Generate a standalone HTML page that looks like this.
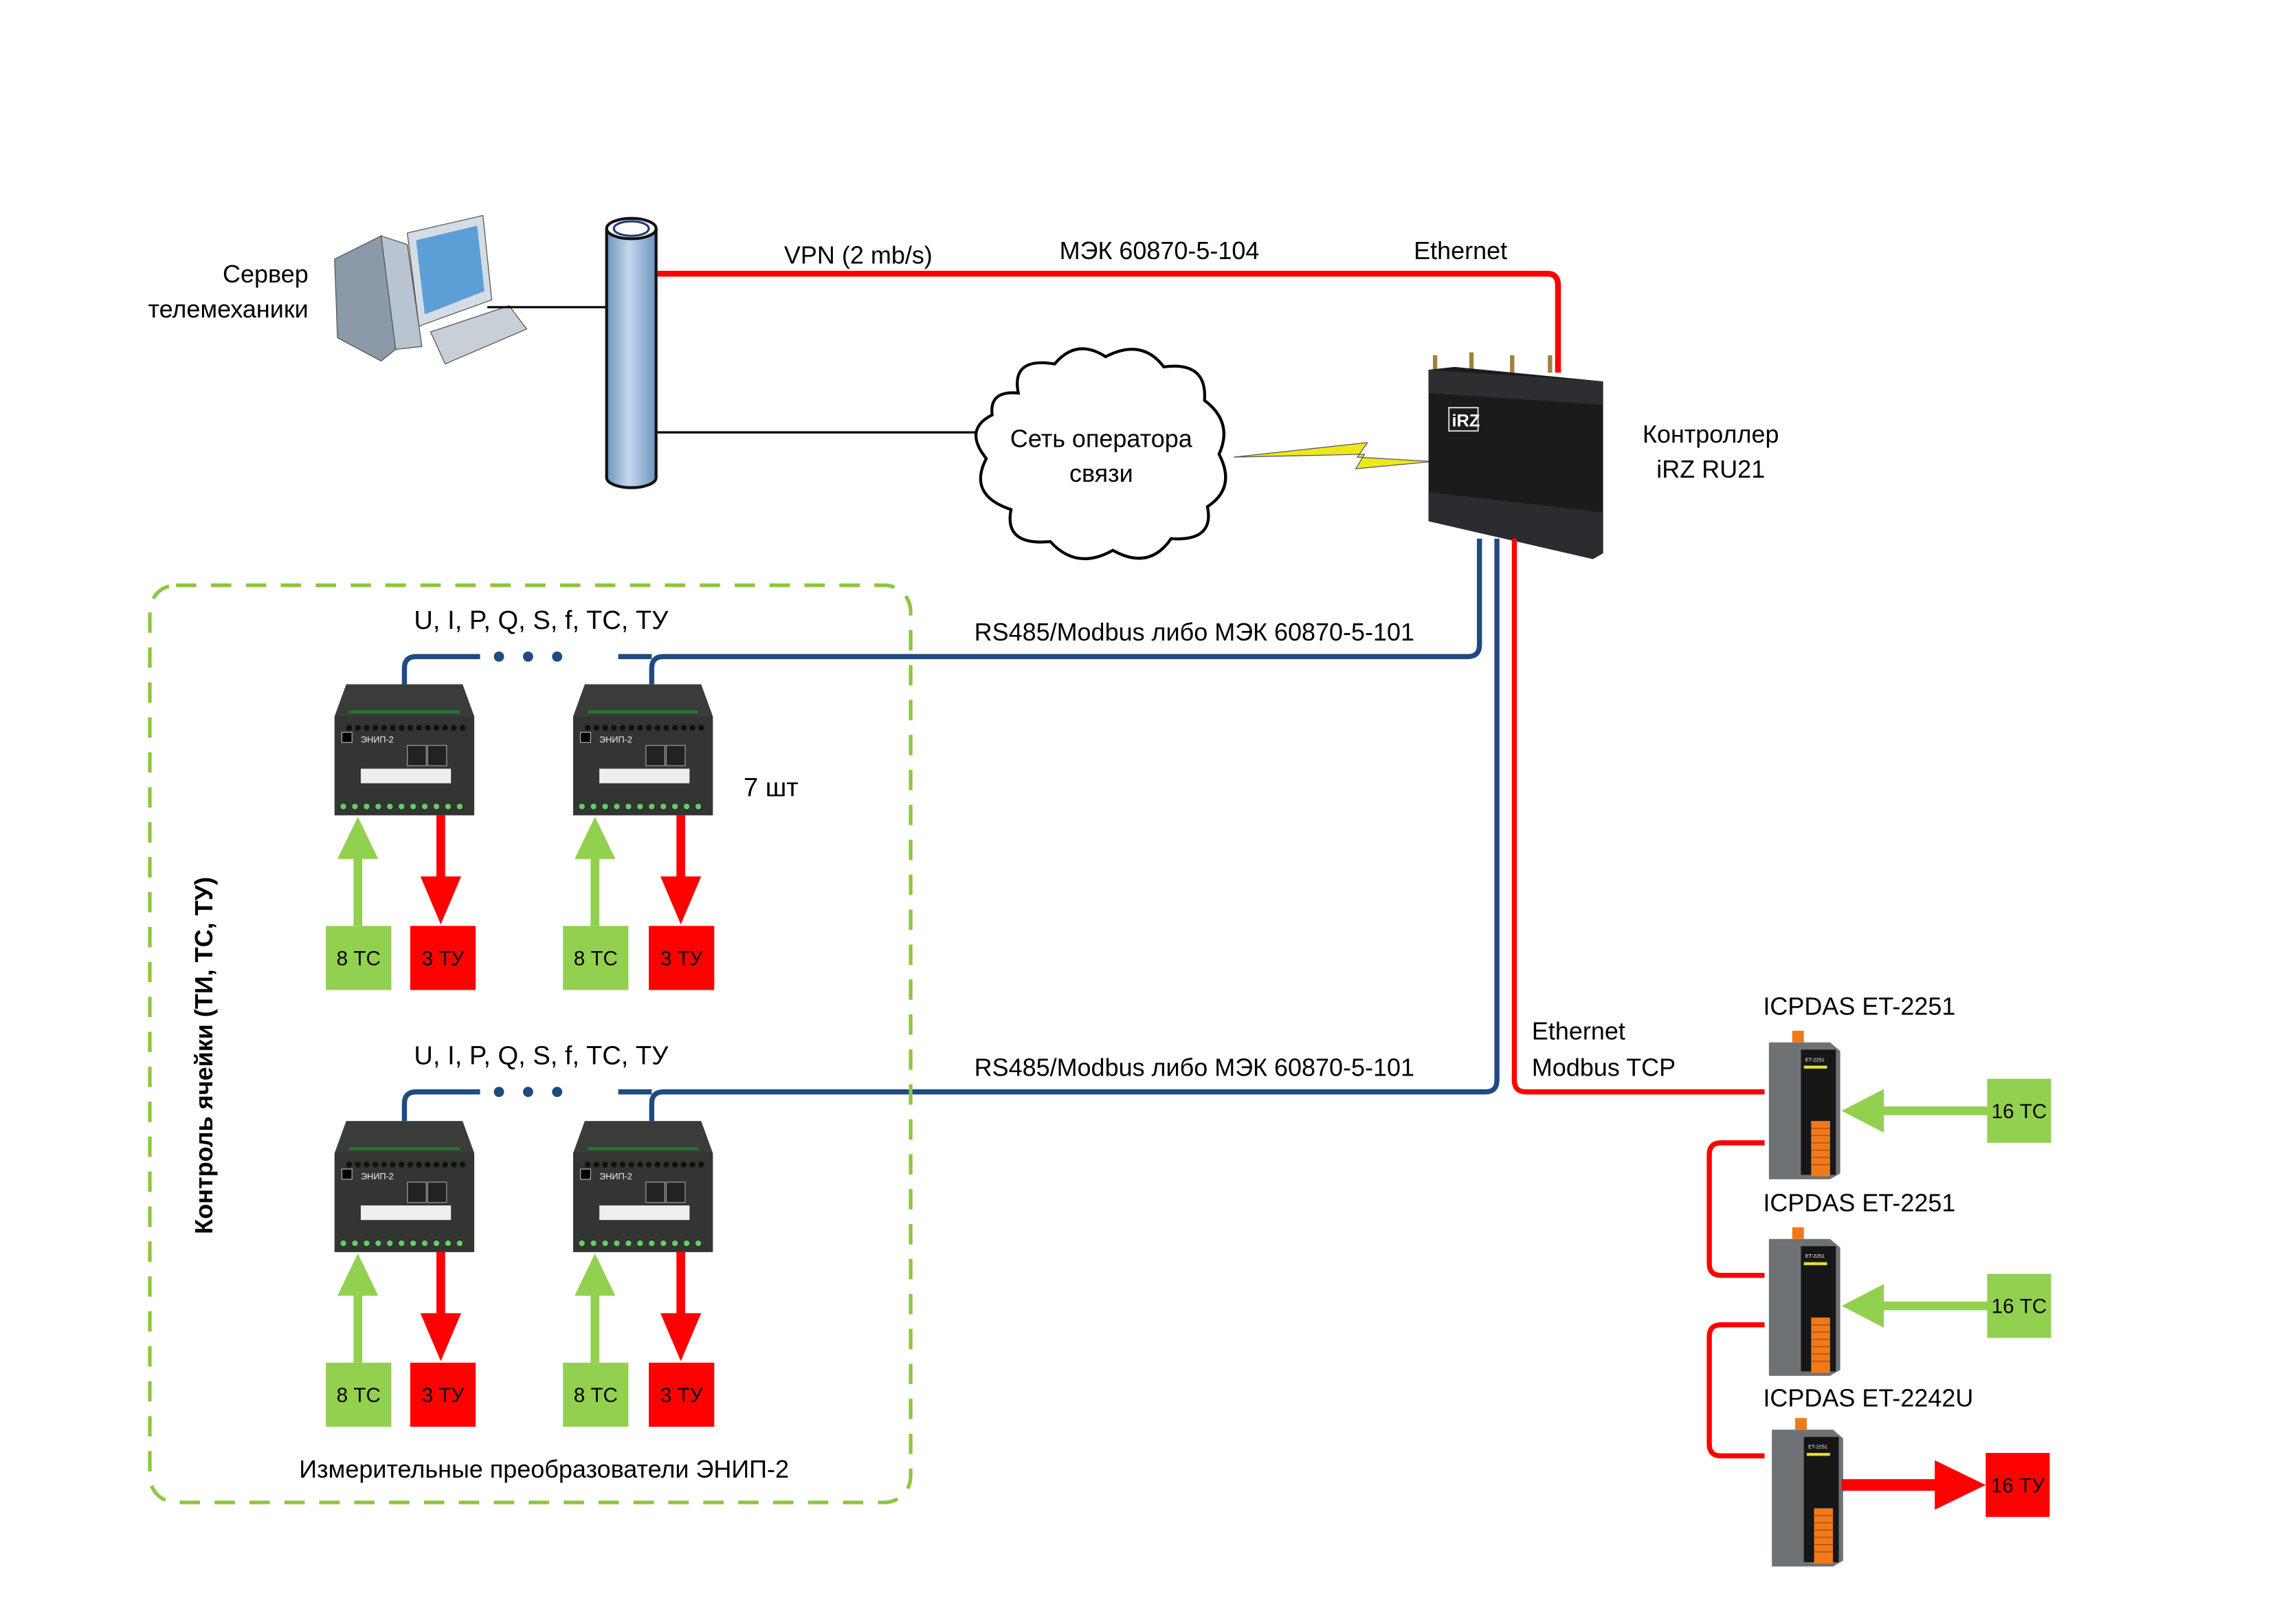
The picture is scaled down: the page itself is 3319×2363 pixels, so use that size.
<!DOCTYPE html>
<html><head><meta charset="utf-8"><style>html,body{margin:0;padding:0;background:#fff}svg{display:block}text{font-family:"Liberation Sans","DejaVu Sans",sans-serif}</style></head><body>
<svg width="3319" height="2363" viewBox="0 0 1568 1115.5" preserveAspectRatio="none" xmlns="http://www.w3.org/2000/svg">
<defs>
<linearGradient id="cyl" x1="0" x2="1"><stop offset="0" stop-color="#6d93bd"/><stop offset="0.45" stop-color="#c4d8ee"/><stop offset="1" stop-color="#6d93bd"/></linearGradient>
<g id="enip">
<path d="M8 0 H88 L96 22 V90 H0 V22 Z" fill="#3a3c3a"/>
<rect x="0" y="22" width="96" height="68" fill="#333532"/>
<rect x="10" y="18" width="76" height="2" fill="#1f7a2e"/>
<g fill="#111"><circle cx="10" cy="30" r="2"/><circle cx="16" cy="30" r="2"/><circle cx="22" cy="30" r="2"/><circle cx="28" cy="30" r="2"/><circle cx="34" cy="30" r="2"/><circle cx="40" cy="30" r="2"/><circle cx="46" cy="30" r="2"/><circle cx="52" cy="30" r="2"/><circle cx="58" cy="30" r="2"/><circle cx="64" cy="30" r="2"/><circle cx="70" cy="30" r="2"/><circle cx="76" cy="30" r="2"/><circle cx="82" cy="30" r="2"/><circle cx="88" cy="30" r="2"/></g>
<rect x="5" y="33" width="7" height="7" fill="#000" stroke="#aaa" stroke-width="0.6"/>
<text x="18" y="40" font-size="6" fill="#eee">ЭНИП-2</text>
<rect x="50" y="42" width="13" height="14" fill="#222" stroke="#999" stroke-width="0.6"/>
<rect x="64" y="42" width="13" height="14" fill="#222" stroke="#999" stroke-width="0.6"/>
<rect x="18" y="58" width="62" height="10" fill="#eee"/>
<g fill="#6c6" stroke="#222" stroke-width="0.4"><circle cx="6" cy="84" r="2.2"/><circle cx="14" cy="84" r="2.2"/><circle cx="22" cy="84" r="2.2"/><circle cx="30" cy="84" r="2.2"/><circle cx="38" cy="84" r="2.2"/><circle cx="46" cy="84" r="2.2"/><circle cx="54" cy="84" r="2.2"/><circle cx="62" cy="84" r="2.2"/><circle cx="70" cy="84" r="2.2"/><circle cx="78" cy="84" r="2.2"/><circle cx="86" cy="84" r="2.2"/></g>
</g>
<g id="icp">
<path d="M4 4 H46 L53 10 V94 L46 98 H4 Z" fill="#6e7275"/>
<rect x="26" y="9" width="24" height="86" fill="#161616"/>
<rect x="20" y="-4" width="8" height="8" fill="#f07a1a"/>
<rect x="28" y="20" width="16" height="2" fill="#e8e02a"/>
<text x="29" y="17" font-size="3.5" fill="#fff">ET-2251</text>
<rect x="33" y="58" width="13" height="38" fill="#f07a1a"/>
<g stroke="#a14a0a" stroke-width="0.6"><line x1="33" y1="63" x2="46" y2="63"/><line x1="33" y1="68" x2="46" y2="68"/><line x1="33" y1="73" x2="46" y2="73"/><line x1="33" y1="78" x2="46" y2="78"/><line x1="33" y1="83" x2="46" y2="83"/><line x1="33" y1="88" x2="46" y2="88"/></g>
</g>
</defs>

<g>
<path d="M230 178 L262 162 L272 240 L262 248 L232 232 Z" fill="#8a9aa8" stroke="#555" stroke-width="0.6"/>
<path d="M262 162 L280 168 L290 238 L272 240 Z" fill="#b8c4cf" stroke="#555" stroke-width="0.6"/>
<path d="M280 160 L332 148 L338 206 L288 224 Z" fill="#d5dde4" stroke="#555" stroke-width="0.6"/>
<path d="M286 165 L328 155 L333 200 L292 216 Z" fill="#5c9fd6"/>
<path d="M296 228 L350 210 L362 226 L306 250 Z" fill="#c8cfd6" stroke="#555" stroke-width="0.6"/>
</g>
<text x="212" y="194" font-size="17" text-anchor="end">Сервер</text>
<text x="212" y="218" font-size="17" text-anchor="end">телемеханики</text>
<line x1="335" y1="211" x2="416" y2="211" stroke="#000" stroke-width="1.5"/>
<line x1="452" y1="297" x2="672" y2="297" stroke="#000" stroke-width="1.5"/>

<path d="M417 157 V328 A17 7 0 0 0 451 328 V157" fill="url(#cyl)" stroke="#111" stroke-width="2"/>
<ellipse cx="434" cy="157" rx="17" ry="7" fill="#fff" stroke="#111" stroke-width="2"/>
<ellipse cx="434" cy="157" rx="12" ry="5" fill="#fff" stroke="#223b77" stroke-width="1.5"/>

<path d="M452 188 H1064 Q1071 188 1071 196 V256" fill="none" stroke="#f00" stroke-width="4"/>
<text x="590" y="181" font-size="17" text-anchor="middle">VPN (2 mb/s)</text>
<text x="797" y="178" font-size="17" text-anchor="middle">МЭК 60870-5-104</text>
<text x="1004" y="178" font-size="17" text-anchor="middle">Ethernet</text>

<path d="M700 270 Q695 245 725 250 Q740 232 760 245 Q785 232 800 252 Q830 248 828 275 Q848 290 838 312 Q850 335 830 348 Q835 372 805 370 Q790 392 765 378 Q740 392 722 372 Q690 375 695 350 Q665 340 678 315 Q662 295 682 285 Q680 268 700 270 Z" fill="#fff" stroke="#000" stroke-width="2"/>
<text x="757" y="307" font-size="17" text-anchor="middle">Сеть оператора</text>
<text x="757" y="331" font-size="17" text-anchor="middle">связи</text>
<path d="M848 314 L940 304 L933 314 L985 317 L932 322 L938 312 Z" fill="#eee81a" stroke="#556" stroke-width="0.6"/>

<g>
<rect x="985" y="244" width="3" height="12" fill="#a08040"/><rect x="1010" y="242" width="3" height="14" fill="#a08040"/><rect x="1038" y="244" width="3" height="12" fill="#a08040"/><rect x="1064" y="244" width="3" height="12" fill="#a08040"/>
<path d="M982 254 L1000 252 L1102 262 V380 L1095 384 L982 358 Z" fill="#1a1b1d"/>
<path d="M982 254 L1102 262 V278 L982 270 Z" fill="#2c2e31"/>
<path d="M982 338 L1102 352 V380 L1095 384 L982 358 Z" fill="#2a2c2f"/>
<rect x="996" y="280" width="20" height="16" fill="none" stroke="#ccc" stroke-width="1"/>
<text x="998" y="293" font-size="12" font-weight="bold" fill="#fff">iRZ</text>
</g>
<text x="1176" y="304" font-size="17" text-anchor="middle">Контроллер</text>
<text x="1176" y="328" font-size="17" text-anchor="middle">iRZ RU21</text>

<path d="M1017 370 V443 Q1017 451 1009 451 H456 Q448 451 448 459 V470" fill="none" stroke="#1f4a82" stroke-width="3.5"/>
<path d="M448 451 H425" fill="none" stroke="#1f4a82" stroke-width="3.5"/>
<path d="M330 451 H286 Q278 451 278 459 V470" fill="none" stroke="#1f4a82" stroke-width="3.5"/>
<circle cx="343" cy="451" r="3.5" fill="#1f4a82"/><circle cx="363" cy="451" r="3.5" fill="#1f4a82"/><circle cx="383" cy="451" r="3.5" fill="#1f4a82"/>
<path d="M1029 370 V742 Q1029 750 1021 750 H456 Q448 750 448 758 V770" fill="none" stroke="#1f4a82" stroke-width="3.5"/>
<path d="M448 750 H425" fill="none" stroke="#1f4a82" stroke-width="3.5"/>
<path d="M330 750 H286 Q278 750 278 758 V770" fill="none" stroke="#1f4a82" stroke-width="3.5"/>
<circle cx="343" cy="750" r="3.5" fill="#1f4a82"/><circle cx="363" cy="750" r="3.5" fill="#1f4a82"/><circle cx="383" cy="750" r="3.5" fill="#1f4a82"/>
<path d="M1041 370 V742 Q1041 750 1049 750 H1213" fill="none" stroke="#f00" stroke-width="3.5"/>
<path d="M1213 785 H1183 Q1175 785 1175 793 V868 Q1175 876 1183 876 H1213" fill="none" stroke="#f00" stroke-width="3.5"/>
<path d="M1213 910 H1183 Q1175 910 1175 918 V992 Q1175 1000 1183 1000 H1213" fill="none" stroke="#f00" stroke-width="3.5"/>

<text x="821" y="440" font-size="17" text-anchor="middle">RS485/Modbus либо МЭК 60870-5-101</text>
<text x="821" y="739" font-size="17" text-anchor="middle">RS485/Modbus либо МЭК 60870-5-101</text>

<rect x="103" y="402" width="523" height="630" rx="18" fill="none" stroke="#8dc63f" stroke-width="2.5" stroke-dasharray="14 10"/>
<text transform="translate(146 725) rotate(-90)" font-size="17" font-weight="bold" text-anchor="middle">Контроль ячейки (ТИ, ТС, ТУ)</text>
<text x="372" y="432" font-size="18" text-anchor="middle">U, I, P, Q, S, f, TC, ТУ</text>
<text x="372" y="731" font-size="18" text-anchor="middle">U, I, P, Q, S, f, TC, ТУ</text>
<text x="530" y="547" font-size="18" text-anchor="middle">7 шт</text>
<text x="374" y="1015" font-size="17" text-anchor="middle">Измерительные преобразователи ЭНИП-2</text>

<use href="#enip" x="230" y="470"/><use href="#enip" x="394" y="470"/>
<use href="#enip" x="230" y="770"/><use href="#enip" x="394" y="770"/>

<g>
<rect x="243" y="588" width="6" height="48" fill="#92d050"/><path d="M232 590 L246 561 L260 590 Z" fill="#92d050"/>
<rect x="224" y="636" width="45" height="44" fill="#92d050"/><text x="246.5" y="663" font-size="14" text-anchor="middle">8 ТС</text>
<rect x="300" y="560" width="6" height="44" fill="#f00"/><path d="M289 602 L303 635 L317 602 Z" fill="#f00"/>
<rect x="282" y="636" width="45" height="44" fill="#f00"/><text x="304.5" y="663" font-size="14" text-anchor="middle">3 ТУ</text>
<rect x="406" y="588" width="6" height="48" fill="#92d050"/><path d="M395 590 L409 561 L423 590 Z" fill="#92d050"/>
<rect x="387" y="636" width="45" height="44" fill="#92d050"/><text x="409.5" y="663" font-size="14" text-anchor="middle">8 ТС</text>
<rect x="465" y="560" width="6" height="44" fill="#f00"/><path d="M454 602 L468 635 L482 602 Z" fill="#f00"/>
<rect x="446" y="636" width="45" height="44" fill="#f00"/><text x="468.5" y="663" font-size="14" text-anchor="middle">3 ТУ</text>
</g>
<g transform="translate(0 300)">
<rect x="243" y="588" width="6" height="48" fill="#92d050"/><path d="M232 590 L246 561 L260 590 Z" fill="#92d050"/>
<rect x="224" y="636" width="45" height="44" fill="#92d050"/><text x="246.5" y="663" font-size="14" text-anchor="middle">8 ТС</text>
<rect x="300" y="560" width="6" height="44" fill="#f00"/><path d="M289 602 L303 635 L317 602 Z" fill="#f00"/>
<rect x="282" y="636" width="45" height="44" fill="#f00"/><text x="304.5" y="663" font-size="14" text-anchor="middle">3 ТУ</text>
<rect x="406" y="588" width="6" height="48" fill="#92d050"/><path d="M395 590 L409 561 L423 590 Z" fill="#92d050"/>
<rect x="387" y="636" width="45" height="44" fill="#92d050"/><text x="409.5" y="663" font-size="14" text-anchor="middle">8 ТС</text>
<rect x="465" y="560" width="6" height="44" fill="#f00"/><path d="M454 602 L468 635 L482 602 Z" fill="#f00"/>
<rect x="446" y="636" width="45" height="44" fill="#f00"/><text x="468.5" y="663" font-size="14" text-anchor="middle">3 ТУ</text>
</g>

<text x="1053" y="714" font-size="17">Ethernet</text>
<text x="1053" y="739" font-size="17">Modbus TCP</text>
<text x="1212" y="697" font-size="17">ICPDAS ET-2251</text>
<text x="1212" y="832" font-size="17">ICPDAS ET-2251</text>
<text x="1212" y="966" font-size="17">ICPDAS ET-2242U</text>
<use href="#icp" x="1212" y="712"/><use href="#icp" x="1212" y="847"/><use href="#icp" x="1214" y="978"/>

<rect x="1294" y="760" width="72" height="6" fill="#92d050"/><path d="M1295 748 L1266 763 L1295 778 Z" fill="#92d050"/>
<rect x="1366" y="741" width="44" height="44" fill="#92d050"/><text x="1388" y="768" font-size="14" text-anchor="middle">16 ТС</text>
<rect x="1294" y="894" width="72" height="6" fill="#92d050"/><path d="M1295 882 L1266 897 L1295 912 Z" fill="#92d050"/>
<rect x="1366" y="875" width="44" height="44" fill="#92d050"/><text x="1388" y="902" font-size="14" text-anchor="middle">16 ТС</text>
<rect x="1266" y="1016" width="66" height="8" fill="#f00"/><path d="M1330 1003 L1365 1020 L1330 1037 Z" fill="#f00"/>
<rect x="1365" y="998" width="44" height="44" fill="#f00"/><text x="1387" y="1025" font-size="14" text-anchor="middle">16 ТУ</text>
</svg>
</body></html>
